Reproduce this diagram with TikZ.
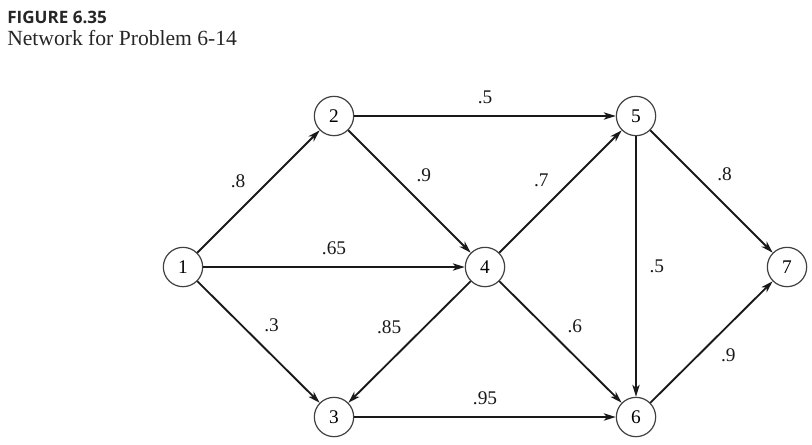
\documentclass[tikz,border=0pt]{standalone}
\usepackage{fontspec}
\setmainfont{Liberation Serif}
\newfontfamily\headfont{Open Sans}
\usepackage{tikz}
\usetikzlibrary {arrows.meta}
\pgfmathsetmacro{\gap}{151}

\begin{document}
\begin{tikzpicture}[x = 0.75pt, y = -0.75pt,
		vertex/.style = {draw = black!75, line width = .9pt, circle, minimum size = 29.5pt, inner sep = 0pt, font = \fontsize{14.5}{17}\selectfont},
		arc/.style = {line width = 1.4pt, black!90, arrows = {-Stealth[length = 9pt, width = 5.5pt, inset = 2.5pt]}},
		lbl/.style = {inner sep = 5.5pt, font = \fontsize{14.5}{17}\selectfont}]
		\useasboundingbox (0, 0) rectangle (812, 444);
		\node[anchor = base west, font = \headfont\bfseries\fontsize{12.8}{15}\selectfont, inner sep = 0pt, black!85] (fig) at (7, 23) {FIGURE 6.35};
		\node[anchor = base west, font = \fontsize{16.2}{19}\selectfont, inner sep = 0pt, black!85] (cap) at (7, 45) {Network for Problem 6-14};
		\node[vertex] (n1) at (183, 267) {1};
		\node[vertex] (n2) at (183 + \gap, 116) {2};
		\node[vertex] (n3) at (183 + \gap, 417) {3};
		\node[vertex] (n4) at (183 + 2*\gap, 267) {4};
		\node[vertex] (n5) at (183 + 3*\gap, 116) {5};
		\node[vertex] (n6) at (183 + 3*\gap, 417) {6};
		\node[vertex] (n7) at (183 + 4*\gap, 267) {7};
		\draw[arc] (n1) -- (n2) node[lbl, pos = .46, above left] {.8};
		\draw[arc] (n1) -- (n4) node[lbl, midway, above, yshift = 3pt] {.65};
		\draw[arc] (n1) -- (n3) node[lbl, pos = .48, above right] {.3};
		\draw[arc] (n2) -- (n5) node[lbl, midway, above, yshift = 3pt] {.5};
		\draw[arc] (n2) -- (n4) node[lbl, pos = .49, above right] {.9};
		\draw[arc] (n4) -- (n5) node[lbl, pos = .47, above left] {.7};
		\draw[arc] (n4) -- (n3) node[lbl, midway, above left] {.85};
		\draw[arc] (n4) -- (n6) node[lbl, pos = .49, above right] {.6};
		\draw[arc] (n3) -- (n6) node[lbl, midway, above, yshift = 3pt] {.95};
		\draw[arc] (n5) -- (n6) node[lbl, midway, right, xshift = 4pt] {.5};
		\draw[arc] (n5) -- (n7) node[lbl, pos = .48, above right] {.8};
		\draw[arc] (n6) -- (n7) node[lbl, pos = .51, below right] {.9};
	\end{tikzpicture}
\end{document}
